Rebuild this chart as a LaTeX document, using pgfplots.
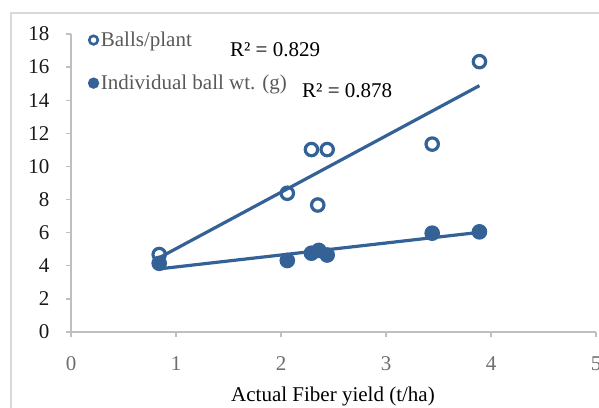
\documentclass[border=0pt]{standalone}
\usepackage{pgfplots}
\pgfplotsset{compat=1.18}
\usepackage{fontspec}
\setmainfont{Liberation Serif}
\definecolor{ser}{RGB}{52,98,150}
\definecolor{axgray}{RGB}{191,191,191}
\definecolor{txtgray}{RGB}{89,89,89}
\definecolor{xgray}{RGB}{110,110,110}
\definecolor{borde}{RGB}{217,217,217}
\begin{document}
\begin{tikzpicture}
\useasboundingbox (0,0) rectangle (599bp,408bp);
\draw[borde, line width=1.5bp] (11bp,-20bp) -- (11bp,395bp) -- (640bp,395bp);
\begin{axis}[
  at={(71bp,76bp)}, anchor=origin,
  scale only axis, width=525bp, height=298bp,
  xmin=0, xmax=5, ymin=0, ymax=18,
  axis lines*=left,
  axis line style={axgray, line width=1.3bp},
  xtick={0,1,2,3,4,5}, ytick={0,2,...,18},
  tick align=outside, major tick length=5bp,
  tick style={axgray, line width=1.3bp},
  font=\fontsize{21bp}{25bp}\selectfont,
  /pgf/number format/assume math mode=true,
  xticklabel style={text=xgray, yshift=-16bp},
  yticklabel style={text=black!90, xshift=-13bp},
  xlabel={Actual Fiber yield (t/ha)},
  xlabel style={at={(axis description cs:0.499,0)}, anchor=center, yshift=-64bp, text=black},
  legend style={draw=none, fill=none, at={(axis cs:0.172,18.25)}, anchor=north west,
    text=txtgray, font=\fontsize{21bp}{25bp}\selectfont, row sep=23bp, inner sep=0pt,
    nodes={inner xsep=3bp}},
  legend cell align=left,
  clip=false,
]
% trend lines
\addplot[ser, line width=3.2bp, forget plot] coordinates {(0.85,4.52) (3.89,14.88)};
\addplot[ser, line width=3.2bp, forget plot] coordinates {(0.85,3.82) (3.89,6.02)};
% Balls/plant
\addplot[only marks, mark=o, mark size=6.2bp, ser, line width=3.2bp,
  legend image code/.code={\draw[ser, line width=2.6bp, mark=o, mark size=4.3bp] plot coordinates {(0bp,0bp)};}]
  coordinates {
  (0.84,4.68) (2.06,8.38) (2.29,11.02) (2.44,11.02) (2.35,7.67) (3.44,11.35) (3.89,16.33)
};
\addlegendentry{Balls/plant}
% Individual ball wt.
\addplot[only marks, mark=*, mark size=6.2bp, ser, fill=ser, line width=3.2bp,
  legend image code/.code={\draw[ser, fill=ser, line width=2.6bp, mark=*, mark size=4.3bp] plot coordinates {(0bp,0bp)};}]
  coordinates {
  (0.84,4.15) (2.06,4.32) (2.29,4.76) (2.36,4.93) (2.44,4.65) (3.44,5.97) (3.89,6.05)
};
\addlegendentry{Individual ball wt. (g)}
\node[anchor=west, inner sep=0pt, text=black] at (axis cs:1.514,17.08) {R² = 0.829};
\node[anchor=west, inner sep=0pt, text=black] at (axis cs:2.2,14.6) {R² = 0.878};
\end{axis}
\end{tikzpicture}
\end{document}
